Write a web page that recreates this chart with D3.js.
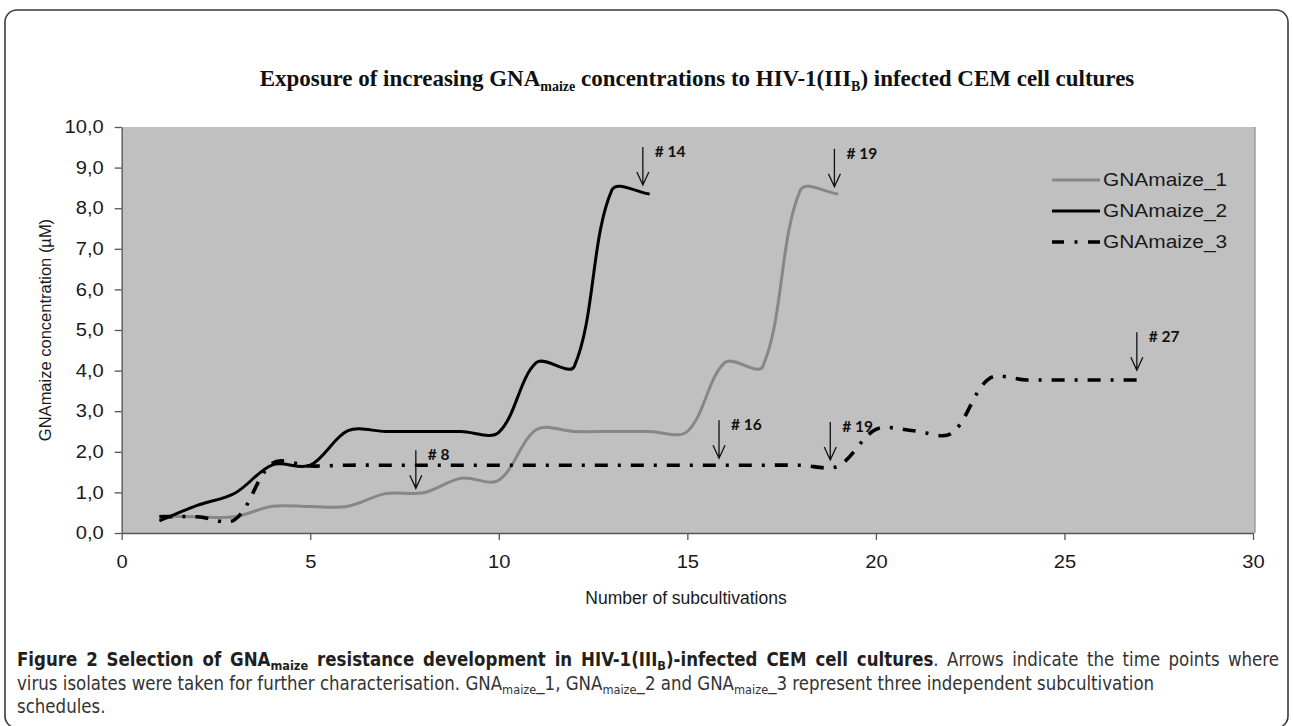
<!DOCTYPE html>
<html>
<head>
<meta charset="utf-8">
<script src="https://cdn.jsdelivr.net/npm/d3@7"></script>
<style>
  body { margin: 0; background: #fff; }
  svg { display: block; }
</style>
</head>
<body>
<div id="chart"></div>
<script>
// subcultivation number -> GNAmaize concentration (uM)
const runs1 = d3.range(1, 20);
const maize1 = [0.42, 0.4, 0.4, 0.66, 0.65, 0.66, 0.97, 0.99, 1.35, 1.3, 2.55, 2.5, 2.5, 2.5, 2.5, 4.2, 4.1, 8.45, 8.35];
const runs2 = d3.range(1, 15);
const maize2 = [0.3, 0.68, 0.98, 1.68, 1.67, 2.52, 2.5, 2.5, 2.5, 2.48, 4.2, 4.1, 8.45, 8.35];
const runs3 = d3.range(1, 28);
const maize3 = [0.4, 0.4, 0.33, 1.72, 1.65, 1.67, 1.67, 1.67, 1.67, 1.67, 1.67, 1.67, 1.67, 1.67, 1.67, 1.67, 1.67, 1.67, 1.65,
                2.55, 2.52, 2.45, 3.8, 3.77, 3.77, 3.77, 3.77];

const seriesNames = ["GNAmaize_1", "GNAmaize_2", "GNAmaize_3"];

// arrows where isolates were taken: [label, subcultivation, value at arrow tip]
const isolateLabels = ["# 8", "# 14", "# 19", "# 16", "# 19", "# 27"];
const isolateX = [7.8, 13.82, 18.9, 15.84, 18.79, 26.92];
const isolateTip = [1.1, 8.57, 8.53, 1.84, 1.8, 4.01];

const xTicks = [0, 5, 10, 15, 20, 25, 30];
const yTicks = d3.range(0, 11);

const W = 1293, H = 726;
const sans = "'Liberation Sans', Arial, sans-serif";
const svg = d3.select("#chart").append("svg")
  .attr("width", W).attr("height", H)
  .style("font-family", sans);

// the source picture is a bit wider than tall, so horizontal labels get stretched
function stretch(sel, f) {
  sel.each(function () {
    let w = this.getComputedTextLength();
    d3.select(this).attr("textLength", w * f).attr("lengthAdjust", "spacingAndGlyphs");
  });
}

// outer frame
svg.append("rect")
  .attr("x", 5).attr("y", 10).attr("width", 1283).attr("height", 718)
  .attr("rx", 12).attr("fill", "none").attr("stroke", "#3a3a3a").attr("stroke-width", 1.6);

let x = d3.scaleLinear().domain([0, 30]).range([121.7, 1253]);
let y = d3.scaleLinear().domain([0, 10]).range([533, 127]);

// plot area
svg.append("rect")
  .attr("x", x(0)).attr("y", y(10))
  .attr("width", 1255 - x(0)).attr("height", y(0) - y(10))
  .attr("fill", "#c0c0c0");
svg.append("line")
  .attr("x1", 1255).attr("x2", 1255).attr("y1", y(10)).attr("y2", y(0))
  .attr("stroke", "#8a8a8a").attr("stroke-width", 1.2);

// title
let title = svg.append("text")
  .attr("x", 697).attr("y", 86)
  .attr("text-anchor", "middle")
  .style("font-family", "'Liberation Serif', 'Times New Roman', serif")
  .style("font-weight", "bold").style("font-size", "21px").attr("fill", "#111");
title.append("tspan").text("Exposure of increasing GNA");
title.append("tspan").attr("dy", 5).style("font-size", "14px").text("maize");
title.append("tspan").attr("dy", -5).text(" concentrations to HIV-1(III");
title.append("tspan").attr("dy", 5).style("font-size", "14px").text("B");
title.append("tspan").attr("dy", -5).text(") infected CEM cell cultures");

// axes
let yAxis = svg.append("g")
  .attr("transform", "translate(" + x(0) + ",0)")
  .call(d3.axisLeft(y).tickValues(yTicks).tickSize(7).tickPadding(11).tickSizeOuter(0)
    .tickFormat(d => d3.format(".1f")(d).replace(".", ",")));
let xAxis = svg.append("g")
  .attr("transform", "translate(0," + y(0) + ")")
  .call(d3.axisBottom(x).tickValues(xTicks).tickSize(7).tickPadding(16).tickSizeOuter(0));

[xAxis, yAxis].forEach(g => {
  g.select(".domain").attr("stroke", "#555").attr("stroke-width", 1.3);
  g.selectAll(".tick line").attr("stroke", "#555").attr("stroke-width", 1.3);
  g.selectAll(".tick text").attr("fill", "#1a1a1a")
    .style("font-size", "17.5px").style("font-family", sans);
  stretch(g.selectAll(".tick text"), 1.15);
});

svg.append("text")
  .attr("x", 686).attr("y", 604).attr("text-anchor", "middle")
  .style("font-size", "17.5px").attr("fill", "#1a1a1a")
  .text("Number of subcultivations");
svg.append("text")
  .attr("transform", "translate(51,330) rotate(-90)").attr("text-anchor", "middle")
  .style("font-size", "16.5px").attr("fill", "#1a1a1a")
  .text("GNAmaize concentration (\u00b5M)");

// series
const seriesStyle = [
  { color: "#878787", width: 3, dash: null },
  { color: "#000", width: 3, dash: null },
  { color: "#000", width: 3.6, dash: "13,10,3,10" }
];
const seriesData = [
  runs1.map((r, i) => [r, maize1[i]]),
  runs2.map((r, i) => [r, maize2[i]]),
  runs3.map((r, i) => [r, maize3[i]])
];

// spreadsheet style smoothing: bezier arms sized by the neighbouring segment lengths
function smoothPath(data) {
  let pts = data.map(d => [x(d[0]), y(d[1])]);
  let n = pts.length;
  let dist = (a, b) => Math.hypot(b[0] - a[0], b[1] - a[1]);
  let p = d3.path();
  p.moveTo(pts[0][0], pts[0][1]);
  for (let i = 0; i < n - 1; i++) {
    let p0 = pts[i], p1 = pts[i + 1], d = dist(p0, p1);
    let t0, w0, t1, w1;
    if (i == 0) { t0 = [p1[0] - p0[0], p1[1] - p0[1]]; w0 = 1; }
    else {
      let a = pts[i - 1];
      t0 = [p1[0] - a[0], p1[1] - a[1]]; w0 = d / (dist(a, p0) + d);
    }
    if (i == n - 2) { t1 = [p1[0] - p0[0], p1[1] - p0[1]]; w1 = 1; }
    else {
      let b = pts[i + 2];
      t1 = [b[0] - p0[0], b[1] - p0[1]]; w1 = d / (d + dist(p1, b));
    }
    p.bezierCurveTo(
      p0[0] + t0[0] * w0 / 3, p0[1] + t0[1] * w0 / 3,
      p1[0] - t1[0] * w1 / 3, p1[1] - t1[1] * w1 / 3,
      p1[0], p1[1]);
  }
  return p.toString();
}

seriesData.forEach((data, i) => {
  svg.append("path")
    .attr("d", smoothPath(data))
    .attr("fill", "none")
    .attr("stroke", seriesStyle[i].color)
    .attr("stroke-width", seriesStyle[i].width)
    .attr("stroke-dasharray", seriesStyle[i].dash)
    .attr("stroke-linejoin", "round");
});

// legend
const legendY = [180, 211, 242];
seriesNames.forEach((name, i) => {
  let g = svg.append("g").attr("transform", "translate(1052," + legendY[i] + ")");
  g.append("line")
    .attr("x1", 0).attr("x2", 48).attr("y1", 0).attr("y2", 0)
    .attr("stroke", seriesStyle[i].color)
    .attr("stroke-width", seriesStyle[i].width)
    .attr("stroke-dasharray", i == 2 ? "12,10.5,3,10.5,12,100" : null);
  let t = g.append("text")
    .attr("x", 51).attr("y", 0).attr("dy", "0.36em")
    .style("font-size", "18px").attr("fill", "#1a1a1a")
    .text(name);
  stretch(t, 1.16);
});

// isolate arrows
const arrowLen = 38;
isolateLabels.forEach((lab, i) => {
  let ax = x(isolateX[i]), tip = y(isolateTip[i]), top = tip - arrowLen;
  svg.append("path")
    .attr("d", "M" + ax + "," + top + "L" + ax + "," + tip +
      "M" + (ax - 6) + "," + (tip - 13) + "L" + ax + "," + tip + "L" + (ax + 6) + "," + (tip - 13))
    .attr("fill", "none").attr("stroke", "#111").attr("stroke-width", 1.3);
  svg.append("text")
    .attr("x", ax + 12).attr("y", top + 10)
    .style("font-family", "Lato, 'Open Sans', sans-serif")
    .style("font-weight", "bold").style("font-size", "15.5px").attr("fill", "#111")
    .text(lab);
});

// caption
const capFont = "'Liberation Sans Narrow', 'DejaVu Sans Condensed', 'Liberation Sans', sans-serif";
let cap = svg.append("g").attr("transform", "translate(17,0)")
  .style("font-family", capFont).style("font-size", "19px");

function sub(t, s) {
  t.append("tspan").attr("dy", 4).style("font-size", "13px").text(s);
}
let l1 = cap.append("text").attr("x", 0).attr("y", 666).attr("fill", "#333");
l1.append("tspan").style("font-weight", "bold").attr("fill", "#231f20").text("Figure 2 Selection of GNA");
l1.append("tspan").attr("dy", 4).style("font-weight", "bold").style("font-size", "13px").attr("fill", "#231f20").text("maize");
l1.append("tspan").attr("dy", -4).style("font-weight", "bold").attr("fill", "#231f20").text(" resistance development in HIV-1(III");
l1.append("tspan").attr("dy", 4).style("font-weight", "bold").style("font-size", "13px").attr("fill", "#231f20").text("B");
l1.append("tspan").attr("dy", -4).style("font-weight", "bold").attr("fill", "#231f20").text(")-infected CEM cell cultures");
l1.append("tspan").text(". Arrows indicate the time points where");

let l2 = cap.append("text").attr("x", 0).attr("y", 690).attr("fill", "#333");
l2.append("tspan").text("virus isolates were taken for further characterisation. GNA");
sub(l2, "maize");
l2.append("tspan").attr("dy", -4).text("_1, GNA");
sub(l2, "maize");
l2.append("tspan").attr("dy", -4).text("_2 and GNA");
sub(l2, "maize");
l2.append("tspan").attr("dy", -4).text("_3 represent three independent subcultivation");

let l3 = cap.append("text").attr("x", 0).attr("y", 713).attr("fill", "#333").text("schedules.");

// squeeze caption to the width of the reference, justify the first line
let w2 = l2.node().getComputedTextLength();
let s = 1138 / w2;
cap.attr("transform", "translate(17,0) scale(" + s + ",1)");
let w1 = l1.node().getComputedTextLength();
let spaces = 17;
l1.attr("word-spacing", ((1262 / s) - w1) / spaces);

// fit title width
let tw = title.node().getComputedTextLength();
title.style("font-size", (21 * 879 / tw) + "px");
</script>
</body>
</html>
